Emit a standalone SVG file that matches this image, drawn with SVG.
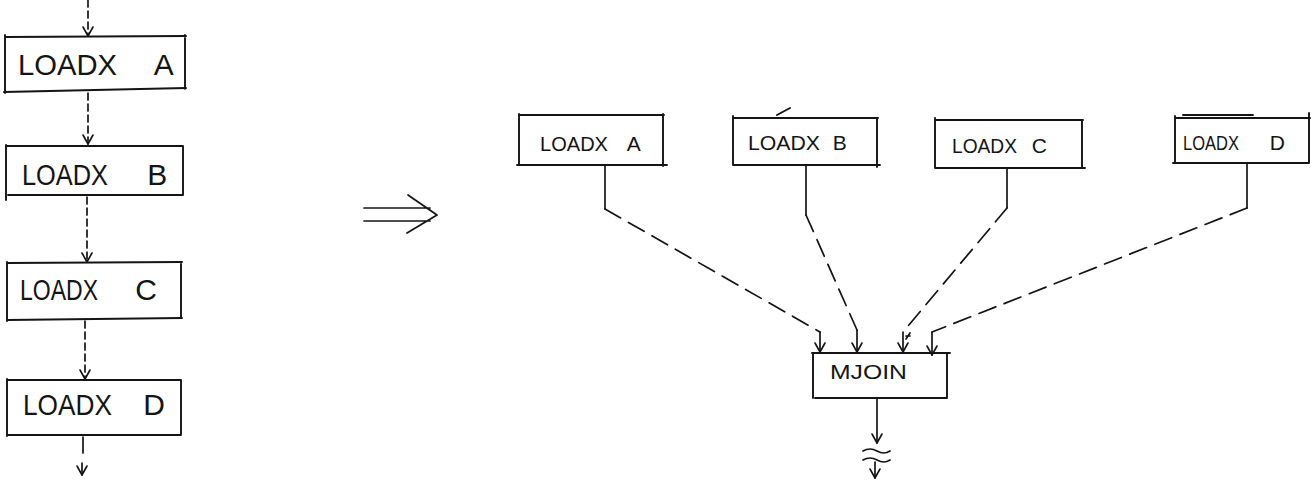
<svg xmlns="http://www.w3.org/2000/svg" width="1312" height="480" viewBox="0 0 1312 480">
  <style>
    .ink{fill:none;stroke:#141414;stroke-width:1.7;stroke-linecap:round;stroke-linejoin:round}
    .box{fill:none;stroke:#141414;stroke-width:1.9;stroke-linecap:round}
    .short{stroke-dasharray:7 4}
    .long{stroke-dasharray:18 9}
    text{font-family:"Liberation Sans",Arial,sans-serif;fill:#141414}
    .big{font-size:30px}
    .mid{font-size:21px}
    .sm{font-size:20px}
  </style>
  <defs>
    <marker id="head" markerUnits="userSpaceOnUse" markerWidth="20" markerHeight="20" viewBox="-10 -10 20 20" refX="0" refY="0" orient="auto" overflow="visible">
      <path d="M-9,-5 L0,0 L-9,5" fill="none" stroke="#141414" stroke-width="1.6" stroke-linecap="round" stroke-linejoin="round"/>
    </marker>
  </defs>

  <!-- sequential plan (left column) -->
  <g id="seq-a">
    <path class="box" d="M5,37 L186,36 M5,35 V93 M185,35 V89 M4,92 L186,88"/>
    <text class="big" y="75"><tspan x="18" textLength="99" lengthAdjust="spacingAndGlyphs">LOADX</tspan><tspan x="147"> A</tspan></text>
  </g>
  <g id="seq-b">
    <path class="box" d="M6,146 H183 M6,145 V200 M183,146 V195 M8,195 H183"/>
    <text class="big" y="185"><tspan x="22" textLength="86" lengthAdjust="spacingAndGlyphs">LOADX</tspan><tspan x="139"> B</tspan></text>
  </g>
  <g id="seq-c">
    <path class="box" d="M7,263 L182,262 M7,262 V321 M181,262 V318 M7,320 L182,318"/>
    <text class="big" y="300"><tspan x="20" textLength="78" lengthAdjust="spacingAndGlyphs">LOADX</tspan><tspan x="127"> C</tspan></text>
  </g>
  <g id="seq-d">
    <path class="box" d="M7,380 H181 M7,379 V436 M181,380 V434 M7,435 H181"/>
    <text class="big" y="415"><tspan x="23" textLength="89" lengthAdjust="spacingAndGlyphs">LOADX</tspan><tspan x="135"> D</tspan></text>
  </g>

  <!-- transformation arrow -->
  <g id="rewrite">
    <path class="ink" d="M364,208 H430 M364,221 H430 M408,195 L437,215 L407,233"/>
  </g>

  <!-- parallel plan (right) -->
  <g id="par-a">
    <path class="box" d="M519,115 H664 M519,114 V165 M663,114 V166 M517,165 H667"/>
    <text class="mid" y="151"><tspan x="540" textLength="68" lengthAdjust="spacingAndGlyphs">LOADX</tspan><tspan x="622"> A</tspan></text>
  </g>
  <g id="par-b">
    <path class="box" d="M733,118 H878 M733,116 V165 M877,118 V167 M733,165 H880 M777,115 L790,108"/>
    <text class="mid" y="150"><tspan x="748" textLength="72" lengthAdjust="spacingAndGlyphs">LOADX</tspan><tspan x="827"> B</tspan></text>
  </g>
  <g id="par-c">
    <path class="box" d="M935,120 H1083 M935,118 V168 M1082,120 V168 M935,168 H1085"/>
    <text class="mid" y="153"><tspan x="952" textLength="65" lengthAdjust="spacingAndGlyphs">LOADX</tspan><tspan x="1026"> C</tspan></text>
  </g>
  <g id="par-d">
    <path class="box" d="M1175,118 H1310 M1175,116 V163 M1309,113 V163 M1173,163 H1309 M1183,115 H1253"/>
    <text class="mid" y="150"><tspan x="1183" textLength="56" lengthAdjust="spacingAndGlyphs">LOADX</tspan><tspan x="1264"> D</tspan></text>
  </g>
  <g id="mjoin">
    <path class="box" d="M812,353 H950 M813,353 V398 M947,353 V398 M815,398 H947"/>
    <text class="sm" x="830" y="379" textLength="77" lengthAdjust="spacingAndGlyphs">MJOIN</text>
  </g>

  <!-- connectors -->
  <g id="edges">
    <!-- left column chain -->
    <path class="ink short" d="M88,0 V36" marker-end="url(#head)"/>
    <path class="ink short" d="M88,93 V144" marker-end="url(#head)"/>
    <path class="ink short" d="M87,197 V262" marker-end="url(#head)"/>
    <path class="ink short" d="M85,321 V379" marker-end="url(#head)"/>
    <path class="ink" d="M83,437 V453"/>
    <path class="ink" d="M82,463 V475" marker-end="url(#head)"/>

    <!-- loads into MJOIN -->
    <path class="ink" d="M605,166 V209"/>
    <path class="ink long" d="M605,209 L820,332"/>
    <path class="ink" d="M820,332 V352" marker-end="url(#head)"/>

    <path class="ink" d="M806,166 V215"/>
    <path class="ink long" d="M806,215 L857,330"/>
    <path class="ink" d="M857,330 V352" marker-end="url(#head)"/>

    <path class="ink" d="M1007,169 V208"/>
    <path class="ink long" d="M1007,208 L903,332"/>
    <path class="ink" d="M903,332 V352" marker-end="url(#head)"/>
    <path class="ink" d="M906,339 L910,333 M906,336 H910"/>

    <path class="ink" d="M1247,164 V208"/>
    <path class="ink long" d="M1247,208 L932,332"/>
    <path class="ink" d="M932,332 V355" marker-end="url(#head)"/>

    <!-- MJOIN output, broken -->
    <path class="ink" d="M877,399 V443" marker-end="url(#head)"/>
    <path class="ink" d="M863,451 q7,-4 14,0 t13,0 M863,460 q7,-4 14,0 t13,0"/>
    <path class="ink" d="M875,462 V478" marker-end="url(#head)"/>
  </g>
</svg>
